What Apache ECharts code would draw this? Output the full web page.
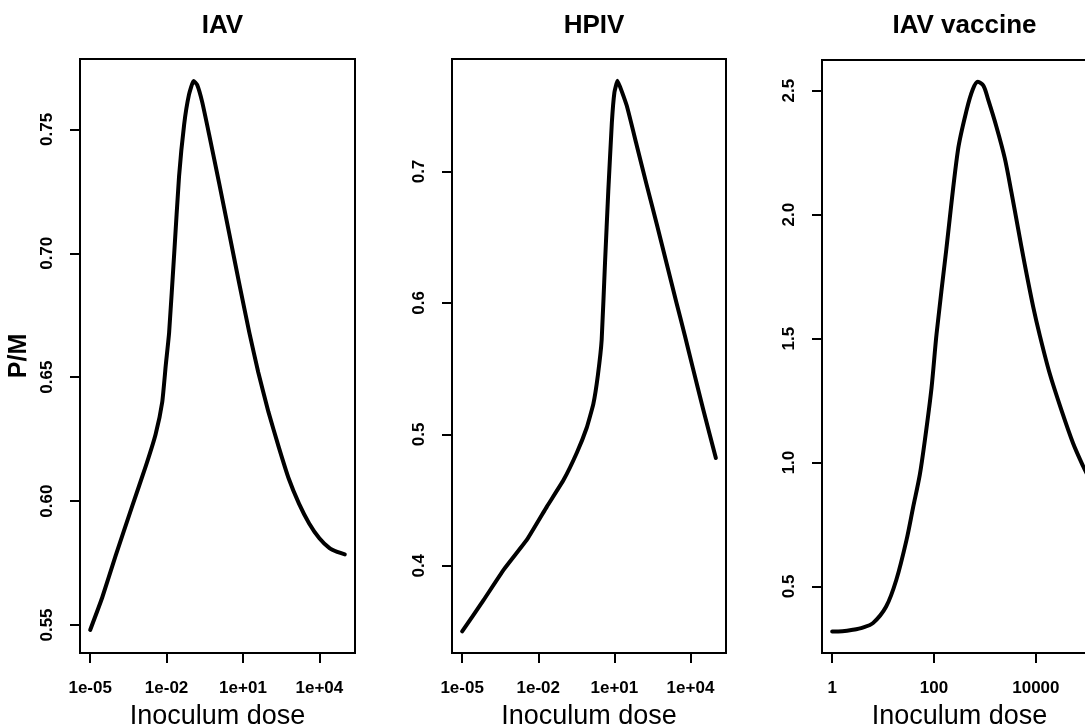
<!DOCTYPE html>
<html>
<head>
<meta charset="utf-8">
<script src="https://cdn.jsdelivr.net/npm/echarts@6/dist/echarts.min.js"></script>
<style>
html,body{margin:0;padding:0;background:#fff;}
#chart{width:1085px;height:727px;}
</style>
</head>
<body>
<div id="chart"></div>
<script>
// Panel titles
const titles = ['IAV', 'HPIV', 'IAV vaccine'];

// Panel 1: IAV  (x = log10 inoculum dose)
const logDose1 = [-5.0, -4.53, -4.0, -3.35, -2.82, -2.43, -2.17, -2.03, -1.90, -1.70, -1.51, -1.31, -1.12, -0.94, -0.80, -0.60, -0.33, 0.07, 0.46, 0.85, 1.25, 1.60, 2.00, 2.40, 2.80, 3.20, 3.60, 4.00, 4.40, 4.70, 5.0];
const pm1 = [0.548, 0.561, 0.578, 0.598, 0.614, 0.627, 0.640, 0.655, 0.668, 0.700, 0.731, 0.752, 0.764, 0.7695, 0.768, 0.761, 0.748, 0.728, 0.708, 0.688, 0.668, 0.652, 0.636, 0.622, 0.609, 0.599, 0.591, 0.585, 0.581, 0.5795, 0.5785];

// Panel 2: HPIV
const logDose2 = [-5.0, -4.15, -3.36, -2.44, -1.66, -1.01, -0.48, -0.09, 0.17, 0.35, 0.50, 0.63, 0.76, 0.90, 1.00, 1.12, 1.49, 1.88, 2.27, 2.67, 3.06, 3.45, 3.78, 4.10, 4.50, 5.0];
const pm2 = [0.350, 0.374, 0.397, 0.420, 0.445, 0.465, 0.486, 0.505, 0.523, 0.545, 0.572, 0.630, 0.685, 0.737, 0.760, 0.769, 0.750, 0.720, 0.690, 0.660, 0.630, 0.600, 0.575, 0.550, 0.519, 0.482];

// Panel 3: IAV vaccine
const logDose3 = [0, 0.2, 0.405, 0.6, 0.80, 1.06, 1.26, 1.46, 1.59, 1.72, 1.82, 1.95, 2.05, 2.24, 2.47, 2.64, 2.76, 2.86, 2.97, 3.06, 3.225, 3.39, 3.52, 3.65, 3.78, 3.945, 4.08, 4.27, 4.50, 4.73, 4.93, 5.0];
const pm3 = [0.318, 0.319, 0.325, 0.334, 0.352, 0.419, 0.527, 0.688, 0.82, 0.95, 1.09, 1.30, 1.52, 1.858, 2.261, 2.422, 2.505, 2.536, 2.52, 2.466, 2.355, 2.227, 2.09, 1.945, 1.80, 1.63, 1.51, 1.36, 1.2125, 1.078, 0.984, 0.955];

// Tick positions and labels
const xTickPos12 = [-5, -2, 1, 4];
const xTickLab12 = ['1e-05', '1e-02', '1e+01', '1e+04'];
const xTickPos3 = [0, 2, 4];
const xTickLab3 = ['1', '100', '10000'];
const yTickPos1 = [0.55, 0.60, 0.65, 0.70, 0.75];
const yTickLab1 = ['0.55', '0.60', '0.65', '0.70', '0.75'];
const yTickPos2 = [0.4, 0.5, 0.6, 0.7];
const yTickLab2 = ['0.4', '0.5', '0.6', '0.7'];
const yTickPos3 = [0.5, 1.0, 1.5, 2.0, 2.5];
const yTickLab3 = ['0.5', '1.0', '1.5', '2.0', '2.5'];

const xLabel = 'Inoculum dose';
const yLabel = 'P/M';

const FONT = '"Liberation Sans", Arial, Helvetica, sans-serif';

function lab(pos, labs) {
  return function (v) {
    let best = 0, bd = Infinity;
    pos.forEach((p, i) => { const d = Math.abs(p - v); if (d < bd) { bd = d; best = i; } });
    return bd < 1e-6 ? labs[best] : '';
  };
}

const grids = [
  {left: 80, top: 59, width: 275, height: 594},
  {left: 452, top: 59, width: 274, height: 594},
  {left: 822, top: 60, width: 275, height: 593}
];

const xRanges = [[-5.4, 5.4], [-5.4, 5.4], [-0.2, 5.2]];
const yRanges = [[0.5387, 0.7784], [0.3336, 0.7856], [0.2315, 2.624]];
const xTicks = [[xTickPos12, xTickLab12], [xTickPos12, xTickLab12], [xTickPos3, xTickLab3]];
const yTicks = [[yTickPos1, yTickLab1], [yTickPos2, yTickLab2], [yTickPos3, yTickLab3]];
const xs = [logDose1, logDose2, logDose3];
const ys = [pm1, pm2, pm3];
const smooths = [0.15, 0.1, 0.3];

const option = {
  animation: false,
  backgroundColor: '#fff',
  title: titles.map((t, i) => ({
    text: t,
    left: grids[i].left + grids[i].width / 2,
    top: 8,
    textAlign: 'center',
    textStyle: {fontFamily: FONT, fontWeight: 'bold', fontSize: 26, color: '#000'}
  })),
  grid: grids.map(g => Object.assign({show: true, borderColor: '#000', borderWidth: 2, backgroundColor: 'transparent', outerBoundsMode: 'none', containLabel: false}, g)),
  xAxis: grids.map((g, i) => ({
    type: 'value',
    gridIndex: i,
    position: 'bottom',
    min: xRanges[i][0],
    max: xRanges[i][1],
    name: xLabel,
    nameLocation: 'middle',
    nameGap: 50,
    nameTextStyle: {fontFamily: FONT, fontSize: 27, color: '#000'},
    axisLine: {show: false, onZero: false},
    splitLine: {show: false},
    axisTick: {show: true, inside: false, length: 10, customValues: xTicks[i][0], lineStyle: {color: '#000', width: 2}},
    axisLabel: {
      customValues: xTicks[i][0],
      formatter: lab(xTicks[i][0], xTicks[i][1]),
      margin: 27,
      fontFamily: FONT, fontWeight: 'bold', fontSize: 17, color: '#000'
    }
  })),
  yAxis: grids.map((g, i) => ({
    type: 'value',
    gridIndex: i,
    position: 'left',
    min: yRanges[i][0],
    max: yRanges[i][1],
    name: i === 0 ? yLabel : '',
    nameLocation: 'middle',
    nameRotate: 90,
    nameGap: 48,
    nameTextStyle: {fontFamily: FONT, fontWeight: 'bold', fontSize: 25, color: '#000'},
    axisLine: {show: false, onZero: false},
    splitLine: {show: false},
    axisTick: {show: true, inside: false, length: 10, customValues: yTicks[i][0], lineStyle: {color: '#000', width: 2}},
    axisLabel: {
      customValues: yTicks[i][0],
      formatter: lab(yTicks[i][0], yTicks[i][1]),
      rotate: 90,
      margin: 24,
      fontFamily: FONT, fontWeight: 'bold', fontSize: 17, color: '#000'
    }
  })),
  series: grids.map((g, i) => ({
    type: 'line',
    xAxisIndex: i,
    yAxisIndex: i,
    data: xs[i].map((x, j) => [x, ys[i][j]]),
    showSymbol: false,
    symbol: 'none',
    smooth: smooths[i],
    lineStyle: {color: '#000', width: 4, cap: 'round', join: 'round'}
  }))
};

const chart = echarts.init(document.getElementById('chart'), null, {renderer: 'canvas'});
chart.setOption(option);
</script>
</body>
</html>
